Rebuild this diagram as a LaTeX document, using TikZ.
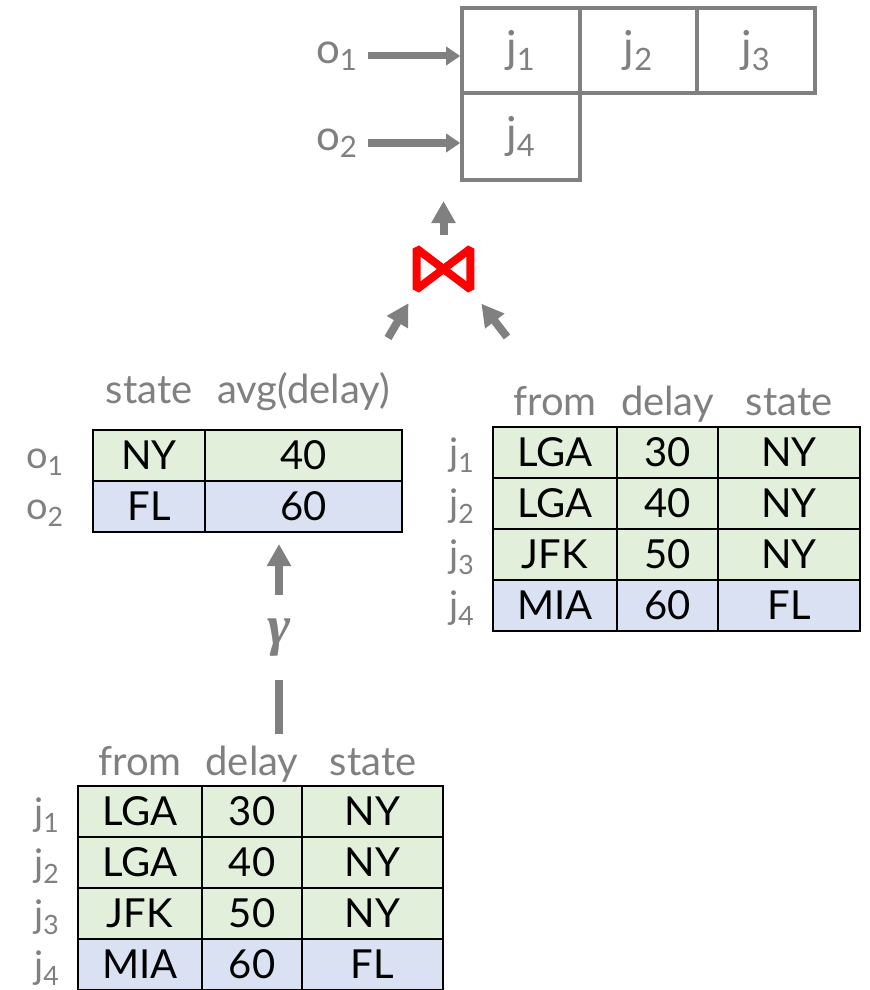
\documentclass[tikz,border=0pt]{standalone}
\usepackage{fontspec}
\setmainfont{Lato}
\newfontfamily\greekfont{Liberation Serif}
\usetikzlibrary{arrows.meta,positioning}
\definecolor{ink}{HTML}{808080}
\definecolor{rowgreen}{HTML}{E2EFDA}
\definecolor{rowblue}{HTML}{D9E1F2}
\definecolor{joinred}{HTML}{FF0000}

\begin{document}
\begin{tikzpicture}[
  x=0.5pt,
  y=-0.5pt,
  cell/.style={
    rectangle,
    draw=black,
    line width=1pt,
    minimum height=25.5pt,
    inner sep=0pt,
    font=\fontsize{20}{20}\selectfont
  },
  slot/.style={
    rectangle,
    draw=ink,
    line width=2pt,
    minimum width=58.8pt,
    inner sep=0pt,
    text=ink,
    font=\fontsize{22}{22}\selectfont
  },
  colhead/.style={text=ink, anchor=base, inner sep=0pt, font=\fontsize{20}{20}\selectfont},
  rowlabel/.style={text=ink, anchor=base, inner sep=0pt, font=\fontsize{19}{19}\selectfont},
  arrow/.style={-{Triangle[length=11pt,width=11.5pt]}, line width=4pt, draw=ink},
  ptr/.style={-{Triangle[length=7pt,width=9pt]}, line width=3.5pt, draw=ink}
]
\useasboundingbox (0,0) rectangle (869,990);

% output of the join
\node[slot, minimum height=42.5pt] (j1) at (521,50.5) {j\textsubscript{1}};
\node[slot, minimum height=42.5pt] (j2) at (638.5,50.5) {j\textsubscript{2}};
\node[slot, minimum height=42.5pt] (j3) at (756,50.5) {j\textsubscript{3}};
\node[slot, minimum height=43.5pt] (j4) at (521,136.5) {j\textsubscript{4}};
\node[text=ink, inner sep=2pt, font=\fontsize{21}{21}\selectfont] (o1) at (337,56) {o\textsubscript{1}};
\node[text=ink, inner sep=2pt, font=\fontsize{21}{21}\selectfont] (o2) at (337,143) {o\textsubscript{2}};
\draw[ptr, shorten <=3pt] (o1) -- (o1 -| j1.west);
\draw[ptr, shorten <=3pt] (o2) -- (o2 -| j4.west);

% join operator
\node[minimum width=26.5pt, minimum height=20pt, inner sep=0pt] (join) at (443.5,269) {};
\draw[joinred, line width=4pt, line join=bevel]
  (join.north west) -- (join.south east) -- (join.north east) -- (join.south west) -- cycle;
\coordinate (lin) at (388,338);
\coordinate (rin) at (507,337);
\draw[arrow, shorten <=7pt, shorten >=9.5pt] (join.north) -- (join.north |- j4.south);
\draw[arrow, shorten >=8pt] (lin) -- (join.south west);
\draw[arrow, shorten >=9pt] (rin) -- (join.south east);

% aggregated table
\node[colhead] (astate) at (149,403) {state};
\node[colhead] (aavg) at (303.5,403) {avg(delay)};
\foreach \r/\s/\v/\y/\c in {1/NY/40/455.5/rowgreen, 2/FL/60/506.5/rowblue} {
  \node[cell, fill=\c, minimum width=56pt] (as\r) at (149,\y) {\s};
  \node[cell, fill=\c, minimum width=98.5pt] (av\r) at (303.5,\y) {\v};
  \node[rowlabel] (ao\r) at (45,\y+13) {o\textsubscript{\r}};
}

% right flights table
\node[colhead] (rfrom) at (555,415) {from};
\node[colhead] (rdelay) at (667.5,415) {delay};
\node[colhead] (rstate) at (789,415) {state};
\foreach \r/\f/\d/\s/\y/\c in {1/LGA/30/NY/452.5/rowgreen, 2/LGA/40/NY/503.5/rowgreen,
                               3/JFK/50/NY/554.5/rowgreen, 4/MIA/60/FL/605.5/rowblue} {
  \node[cell, fill=\c, minimum width=62pt] (rf\r) at (555,\y) {\f};
  \node[cell, fill=\c, minimum width=50.5pt] (rd\r) at (667.5,\y) {\d};
  \node[cell, fill=\c, minimum width=71pt] (rs\r) at (789,\y) {\s};
  \node[rowlabel] (rj\r) at (462,\y+13) {j\textsubscript{\r}};
}

% bottom flights table
\node[colhead] (bfrom) at (140,775) {from};
\node[colhead] (bdelay) at (252,775) {delay};
\node[colhead] (bstate) at (373,775) {state};
\foreach \r/\f/\d/\s/\y/\c in {1/LGA/30/NY/811.5/rowgreen, 2/LGA/40/NY/862.5/rowgreen,
                               3/JFK/50/NY/913.5/rowgreen, 4/MIA/60/FL/964.5/rowblue} {
  \node[cell, fill=\c, minimum width=62pt] (bf\r) at (140,\y) {\f};
  \node[cell, fill=\c, minimum width=50pt] (bd\r) at (252,\y) {\d};
  \node[cell, fill=\c, minimum width=70.5pt] (bs\r) at (372.5,\y) {\s};
  \node[rowlabel] (bj\r) at (47,\y+14) {j\textsubscript{\r}};
}

% grouping
\node[text=ink, minimum height=42.5pt, inner sep=0pt, font=\fontsize{28}{28}\greekfont\bfseries\itshape] (gamma) at (279,637.5) {γ};
\draw[arrow, shorten >=5.5pt] (gamma) -- (gamma |- av2.south);
\draw[draw=ink, line width=4pt, shorten >=25.5pt] (gamma) -- (gamma |- bf1.north);
\end{tikzpicture}
\end{document}
